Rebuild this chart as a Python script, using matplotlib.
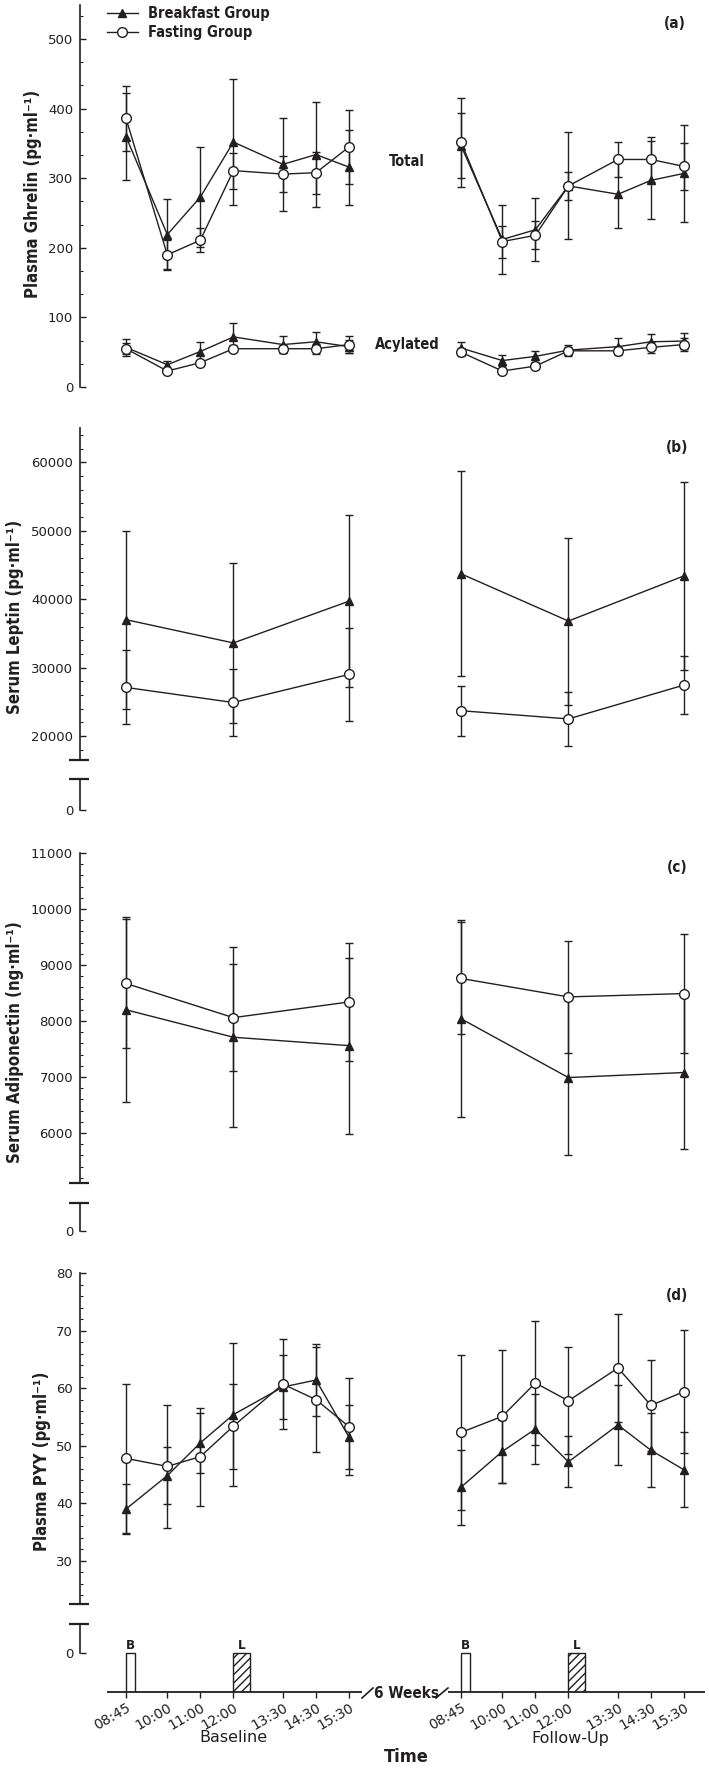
import matplotlib
matplotlib.use('Agg')
import matplotlib.pyplot as plt
from matplotlib.ticker import MultipleLocator, AutoMinorLocator, NullLocator
from matplotlib.lines import Line2D
import numpy as np

# ---------------- data ----------------
times = ['08:45', '10:00', '11:00', '12:00', '13:30', '14:30', '15:30']
times_3 = ['08:45', '12:00', '15:30']
sessions = ['Baseline', 'Follow-Up']
groups = ['Breakfast Group', 'Fasting Group']

# (a) Plasma ghrelin (pg/ml) - total
tot_base_bf = [360, 219, 273, 352, 320, 334, 316]
tot_base_bf_sd = [62, 51, 72, 91, 67, 75, 54]
tot_base_fa = [386, 190, 211, 311, 306, 308, 345]
tot_base_fa_sd = [47, 21, 17, 26, 26, 30, 53]
tot_fu_bf = [347, 212, 226, 289, 277, 297, 307]
tot_fu_bf_sd = [47, 49, 45, 77, 49, 56, 70]
tot_fu_fa = [352, 209, 218, 289, 327, 327, 317]
tot_fu_fa_sd = [64, 23, 20, 20, 25, 33, 34]
# (a) acylated
acy_base_bf = [57, 32, 51, 72, 61, 65, 58]
acy_base_bf_sd = [12, 5, 13, 20, 12, 14, 9]
acy_base_fa = [55, 23, 35, 55, 55, 55, 61]
acy_base_fa_sd = [8, 3, 4, 5, 6, 7, 12]
acy_fu_bf = [56, 38, 44, 53, 58, 65, 66]
acy_fu_bf_sd = [9, 8, 8, 8, 12, 11, 12]
acy_fu_fa = [50, 23, 30, 52, 52, 57, 61]
acy_fu_fa_sd = [6, 3, 4, 6, 5, 8, 9]

# (b) Serum leptin (pg/ml)
lep_base_bf = [37000, 33600, 39700]
lep_base_bf_sd = [13000, 11700, 12560]
lep_base_fa = [27100, 24900, 29000]
lep_base_fa_sd = [5400, 4900, 6800]
lep_fu_bf = [43700, 36800, 43400]
lep_fu_bf_sd = [15000, 12200, 13700]
lep_fu_fa = [23700, 22500, 27450]
lep_fu_fa_sd = [3650, 3900, 4200]

# (c) Serum adiponectin (ng/ml)
adi_base_bf = [8200, 7710, 7560]
adi_base_bf_sd = [1650, 1610, 1570]
adi_base_fa = [8670, 8060, 8340]
adi_base_fa_sd = [1150, 950, 1060]
adi_fu_bf = [8040, 6990, 7080]
adi_fu_bf_sd = [1760, 1390, 1370]
adi_fu_fa = [8760, 8430, 8490]
adi_fu_fa_sd = [1000, 1000, 1070]

# (d) Plasma PYY (pg/ml)
pyy_base_bf = [39.0, 44.8, 50.5, 55.4, 60.2, 61.4, 51.5]
pyy_base_bf_sd = [4.3, 4.9, 5.2, 12.4, 5.6, 6.2, 5.5]
pyy_base_fa = [47.8, 46.4, 48.1, 53.4, 60.7, 58.0, 53.3]
pyy_base_fa_sd = [12.9, 10.7, 8.5, 7.4, 7.8, 9.1, 8.4]
pyy_fu_bf = [42.8, 49.0, 52.9, 47.2, 53.6, 49.2, 45.8]
pyy_fu_bf_sd = [6.5, 5.5, 6.1, 4.4, 6.9, 6.4, 6.5]
pyy_fu_fa = [52.3, 55.1, 60.9, 57.8, 63.5, 57.0, 59.4]
pyy_fu_fa_sd = [13.5, 11.5, 10.8, 9.3, 9.4, 7.9, 10.7]

# meals
meal_labels = ['B', 'L']
meal_start = ['08:45', '12:00']
meal_dur_h = [0.28, 0.5]
meal_hatch = ['', '////']

# ---------------- layout ----------------
W, H = 709, 1768
INK = '#231f20'
plt.rcParams['font.family'] = ['DejaVu Sans']
plt.rcParams['hatch.linewidth'] = 1.0
plt.rcParams['text.color'] = INK
BOLD = dict(fontweight='bold', fontstretch='condensed')

fig = plt.figure(figsize=(W / 100, H / 100), dpi=100)

AX_L, AX_R = 80, 705
PX_PER_H = 33.04
X0_PX, X0_H = 126, 8.75
GAP_H = 10.14  # follow-up shift on the time axis


def px2h(px):
    return X0_H + (px - X0_PX) / PX_PER_H


XL, XR = px2h(AX_L), px2h(AX_R)


def rect(t, b):
    return [AX_L / W, 1 - b / H, (AX_R - AX_L) / W, (b - t) / H]


def hours(s):
    hh, mm = s.split(':')
    return int(hh) + int(mm) / 60.0


def fx(px):
    return px / W


def fy(py):
    return 1 - py / H


def style_axis(ax, major, nminor, ylim, bounds=None, fs=9.5):
    for s in ['top', 'right', 'bottom']:
        ax.spines[s].set_visible(False)
    ax.spines['left'].set_linewidth(1.2)
    ax.spines['left'].set_color(INK)
    if bounds is not None:
        ax.spines['left'].set_bounds(*bounds)
    ax.set_xlim(XL, XR)
    ax.set_ylim(*ylim)
    if major is not None:
        ax.yaxis.set_major_locator(MultipleLocator(major))
    if nminor:
        ax.yaxis.set_minor_locator(AutoMinorLocator(nminor))
    ax.tick_params(axis='y', which='major', direction='in', length=4.5, width=1.0,
                   labelsize=fs, pad=5, colors=INK)
    ax.tick_params(axis='y', which='minor', direction='in', length=2.5, width=0.8, colors=INK)
    ax.xaxis.set_major_locator(NullLocator())
    ax.patch.set_alpha(0)


def brk(ax, y):
    w = AX_R - AX_L
    ax.plot([-11 / w, 9 / w], [y, y], transform=ax.transAxes, color=INK, lw=1.6,
            clip_on=False, solid_capstyle='butt')


def draw(ax, tl, data):
    for off, (bf, bfsd, fa, fasd) in zip([0.0, GAP_H], data):
        x = np.array([hours(t) for t in tl]) + off
        ax.errorbar(x, bf, yerr=bfsd, fmt='none', ecolor=INK, elinewidth=1.0,
                    capsize=3, capthick=1.0, zorder=2)
        ax.errorbar(x, fa, yerr=fasd, fmt='none', ecolor=INK, elinewidth=1.0,
                    capsize=3, capthick=1.0, zorder=2)
        ax.plot(x, bf, '-', color=INK, lw=1.0, marker='^', ms=6, mfc=INK, mec=INK, zorder=3)
        ax.plot(x, fa, '-', color=INK, lw=1.0, marker='o', ms=7, mfc='white', mec=INK,
                mew=1.0, zorder=4)


def panel_letter(txt, px, py):
    fig.text(fx(px), fy(py), txt, fontsize=11, ha='center', va='center', **BOLD)


def ylabel(txt, px, py):
    fig.text(fx(px), fy(py), txt, fontsize=12, rotation=90,
             ha='center', va='center', **BOLD)


# ----- (a) ghrelin -----
ax_a = fig.add_axes(rect(5, 387))
style_axis(ax_a, 100, 3, (0, 549))
draw(ax_a, times, [(tot_base_bf, tot_base_bf_sd, tot_base_fa, tot_base_fa_sd),
                   (tot_fu_bf, tot_fu_bf_sd, tot_fu_fa, tot_fu_fa_sd)])
draw(ax_a, times, [(acy_base_bf, acy_base_bf_sd, acy_base_fa, acy_base_fa_sd),
                   (acy_fu_bf, acy_fu_bf_sd, acy_fu_fa, acy_fu_fa_sd)])
fig.text(fx(407), fy(162), 'Total', fontsize=10.5, ha='center', va='center', **BOLD)
fig.text(fx(407), fy(345), 'Acylated', fontsize=10.5, ha='center', va='center', **BOLD)
panel_letter('(a)', 675, 23)
ylabel('Plasma Ghrelin (pg·ml⁻¹)', 33, 194)

handles = [Line2D([], [], color=INK, lw=1.0, marker='^', ms=6, mfc=INK, mec=INK),
           Line2D([], [], color=INK, lw=1.0, marker='o', ms=7, mfc='white', mec=INK)]
ax_a.legend(handles, groups, loc='upper left', bbox_to_anchor=(fx(107), fy(6)),
            bbox_transform=fig.transFigure, frameon=False, borderpad=0, borderaxespad=0,
            handlelength=2.1, handletextpad=0.7, labelspacing=0.3,
            prop={'weight': 'bold', 'size': 10.5, 'stretch': 'condensed'})

# ----- (b) leptin -----
ax_b = fig.add_axes(rect(428, 760))
style_axis(ax_b, 10000, 5, (16500, 65000))
draw(ax_b, times_3, [(lep_base_bf, lep_base_bf_sd, lep_base_fa, lep_base_fa_sd),
                     (lep_fu_bf, lep_fu_bf_sd, lep_fu_fa, lep_fu_fa_sd)])
brk(ax_b, 0)
ax_b0 = fig.add_axes(rect(779, 810))
style_axis(ax_b0, None, 0, (0, 1))
ax_b0.set_yticks([0])
brk(ax_b0, 1)
panel_letter('(b)', 677, 448)
ylabel('Serum Leptin (pg·ml⁻¹)', 15, 617)

# ----- (c) adiponectin -----
ax_c = fig.add_axes(rect(853, 1183))
style_axis(ax_c, 1000, 5, (5107, 11000))
draw(ax_c, times_3, [(adi_base_bf, adi_base_bf_sd, adi_base_fa, adi_base_fa_sd),
                     (adi_fu_bf, adi_fu_bf_sd, adi_fu_fa, adi_fu_fa_sd)])
brk(ax_c, 0)
ax_c0 = fig.add_axes(rect(1203, 1231))
style_axis(ax_c0, None, 0, (0, 1))
ax_c0.set_yticks([0])
brk(ax_c0, 1)
panel_letter('(c)', 677, 868)
ylabel('Serum Adiponectin (ng·ml⁻¹)', 15, 1042)

# ----- (d) PYY -----
ax_d = fig.add_axes(rect(1273, 1604))
style_axis(ax_d, 10, 5, (22.5, 80))
draw(ax_d, times, [(pyy_base_bf, pyy_base_bf_sd, pyy_base_fa, pyy_base_fa_sd),
                   (pyy_fu_bf, pyy_fu_bf_sd, pyy_fu_fa, pyy_fu_fa_sd)])
brk(ax_d, 0)
panel_letter('(d)', 677, 1295)
ylabel('Plasma PYY (pg·ml⁻¹)', 42, 1461)

# lower strip with meals and time axis; 1 y-unit = 1 px, 0 at y=1653 px
ZERO_PX, AXIS_PX, TOP_PX = 1653, 1692, 1624
ax_m = fig.add_axes(rect(TOP_PX, AXIS_PX))
style_axis(ax_m, None, 0, (ZERO_PX - AXIS_PX, ZERO_PX - TOP_PX),
           bounds=(0, ZERO_PX - TOP_PX))
ax_m.set_yticks([0])
brk(ax_m, 1)
ybot = ZERO_PX - AXIS_PX

for off in [0.0, GAP_H]:
    for lab, st, dur, hat in zip(meal_labels, meal_start, meal_dur_h, meal_hatch):
        xs = hours(st) + off
        ax_m.bar(xs, -ybot, width=dur, bottom=ybot, align='edge', facecolor='white',
                 edgecolor=INK, linewidth=1.0, hatch=hat, zorder=2)
        ax_m.text(xs + dur / 2, 1, lab, fontsize=9.5, ha='center', va='bottom', **BOLD)

# x ticks
xt = [hours(t) for t in times] + [hours(t) + GAP_H for t in times]
ax_m.set_xticks(xt)
ax_m.set_xticklabels(times + times, rotation=30, ha='right', rotation_mode='anchor')
ax_m.tick_params(axis='x', direction='out', length=4, width=1.0, labelsize=10,
                 pad=2, colors=INK)

# broken time axis line
seg1 = (px2h(107), px2h(362))
seg2 = (px2h(448), XR)
for a, b in [seg1, seg2]:
    ax_m.plot([a, b], [ybot, ybot], color=INK, lw=1.3, clip_on=False, zorder=3,
              solid_capstyle='butt')
for x1, x2 in [(362, 373), (436, 448)]:
    ax_m.plot([px2h(x1), px2h(x2)], [ybot - 6, ybot + 4], color=INK, lw=1.2,
              clip_on=False, zorder=3)
ax_m.text(px2h(406), ybot - 1, '6 Weeks', fontsize=11, ha='center', va='center',
          zorder=4, **BOLD)

fig.text(fx(233), fy(1738), sessions[0], fontsize=11.5, ha='center', va='center')
fig.text(fx(570), fy(1738), sessions[1], fontsize=11.5, ha='center', va='center')
fig.text(fx(406), fy(1757), 'Time', fontsize=13, ha='center', va='center', **BOLD)

fig.savefig('out.png', dpi=100)
